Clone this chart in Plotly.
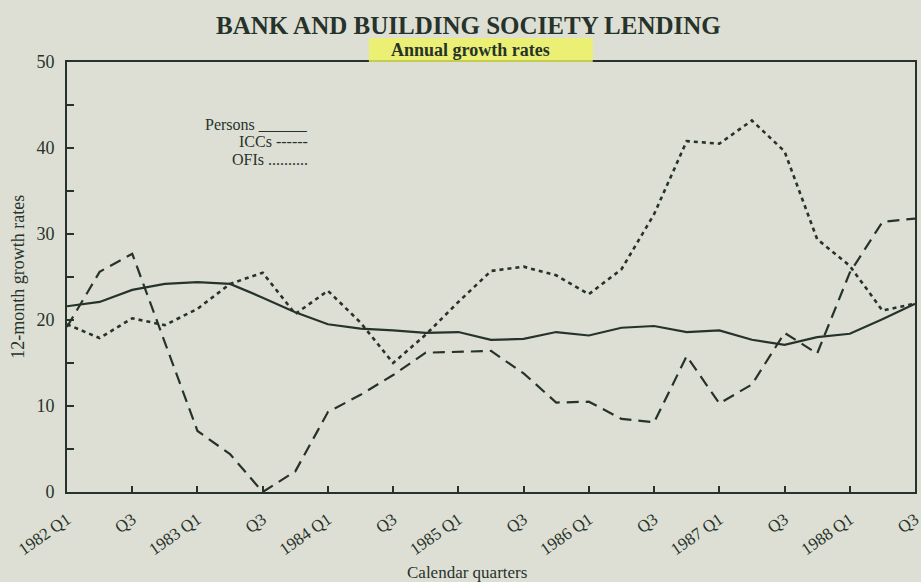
import plotly.graph_objects as go

quarters = [f"{y} Q{q}" for y in range(1982, 1989) for q in range(1, 5)][:27]
tick_quarters = quarters[::2]
tick_labels = ["1982 Q1", "Q3", "1983 Q1", "Q3", "1984 Q1", "Q3", "1985 Q1", "Q3",
               "1986 Q1", "Q3", "1987 Q1", "Q3", "1988 Q1", "Q3"]

persons = [21.6, 22.1, 23.5, 24.2, 24.4, 24.2, 22.6, 20.9, 19.5, 19.0, 18.8, 18.5, 18.6, 17.7,
           17.8, 18.6, 18.2, 19.1, 19.3, 18.6, 18.8, 17.7, 17.1, 18.0, 18.4, 20.1, 21.9]
iccs = [19.2, 25.6, 27.7, 17.4, 7.1, 4.4, 0.0, 2.4, 9.3, 11.3, 13.6, 16.2, 16.3, 16.4,
        13.8, 10.4, 10.5, 8.5, 8.1, 15.8, 10.3, 12.5, 18.5, 16.1, 25.5, 31.4, 31.8]
ofis = [19.5, 17.9, 20.2, 19.4, 21.3, 24.2, 25.5, 20.7, 23.4, 19.7, 15.0, 18.3, 22.1, 25.7,
        26.2, 25.2, 23.0, 25.9, 32.3, 40.8, 40.5, 43.2, 39.6, 29.4, 26.3, 21.1, 21.9]

ink = "#26332b"
bg = "#dedfd4"
serif = "Liberation Serif, Times New Roman, serif"

fig = go.Figure()
fig.add_trace(go.Scatter(x=quarters, y=persons, mode="lines", name="Persons",
                         line=dict(color=ink, width=2.2)))
fig.add_trace(go.Scatter(x=quarters, y=iccs, mode="lines", name="ICCs",
                         line=dict(color=ink, width=2.2, dash="12px,7px")))
fig.add_trace(go.Scatter(x=quarters, y=ofis, mode="lines", name="OFIs",
                         line=dict(color=ink, width=2.6, dash="4px,4px")))

fig.update_layout(
    width=921, height=582,
    paper_bgcolor=bg, plot_bgcolor=bg,
    margin=dict(l=67, r=6, t=62, b=90, autoexpand=False),
    showlegend=False,
    font=dict(family=serif, color=ink, size=14),
)

fig.update_xaxes(
    type="category", range=[0, 26], automargin=False,
    tickmode="array", tickvals=tick_quarters, ticktext=tick_labels,
    tickangle=-35, ticks="inside", ticklen=6, tickcolor=ink, tickwidth=1.5,
    ticklabelstandoff=9,
    showline=True, linecolor=ink, linewidth=2, mirror=True,
    showgrid=False, zeroline=False,
    tickfont=dict(family=serif, size=17, color=ink),
)
fig.update_yaxes(
    range=[0, 50], automargin=False,
    tickmode="array", tickvals=[0, 10, 20, 30, 40, 50],
    ticks="inside", ticklen=7, tickcolor=ink, tickwidth=1.5,
    ticklabelstandoff=7,
    minor=dict(dtick=5, ticks="inside", ticklen=7, tickcolor=ink, tickwidth=1.5, showgrid=False),
    showline=True, linecolor=ink, linewidth=2, mirror=True,
    showgrid=False, zeroline=False,
    tickfont=dict(family=serif, size=18, color=ink),
)

# title
fig.add_annotation(text="<b>BANK AND BUILDING SOCIETY LENDING</b>", xref="paper", yref="paper",
                   x=0.474, y=1.084, xanchor="center", yanchor="middle", showarrow=False,
                   font=dict(family=serif, size=25, color=ink))
# highlighter mark behind subtitle
fig.add_shape(type="rect", xref="paper", yref="paper",
              x0=0.356, x1=0.620, y0=1.0, y1=1.056,
              fillcolor="#eef25a", opacity=0.8, line=dict(width=0), layer="above")
fig.add_annotation(text="<b>Annual growth rates</b>", xref="paper", yref="paper",
                   x=0.476, y=1.028, xanchor="center", yanchor="middle", showarrow=False,
                   font=dict(family=serif, size=18, color=ink))

# axis titles
fig.add_annotation(text="Calendar quarters", xref="paper", yref="paper",
                   x=0.472, y=-0.188, xanchor="center", yanchor="middle", showarrow=False,
                   font=dict(family=serif, size=17, color=ink))
fig.add_annotation(text="12-month growth rates", xref="paper", yref="paper",
                   x=-0.058, y=0.5, xanchor="center", yanchor="middle", showarrow=False,
                   textangle=-90, font=dict(family=serif, size=18, color=ink))

# text legend
legend_lines = ["Persons ______", "ICCs ------", "OFIs .........."]
legend_y = [0.855, 0.814, 0.773]
for txt, yy in zip(legend_lines, legend_y):
    fig.add_annotation(text=txt, xref="paper", yref="paper", x=0.2866, y=yy,
                       xanchor="right", yanchor="middle", showarrow=False,
                       font=dict(family=serif, size=16, color=ink))

fig.write_html("out.html", config={"displayModeBar": False},
               post_script="document.body.style.margin='0px';document.body.style.overflow='hidden';")
